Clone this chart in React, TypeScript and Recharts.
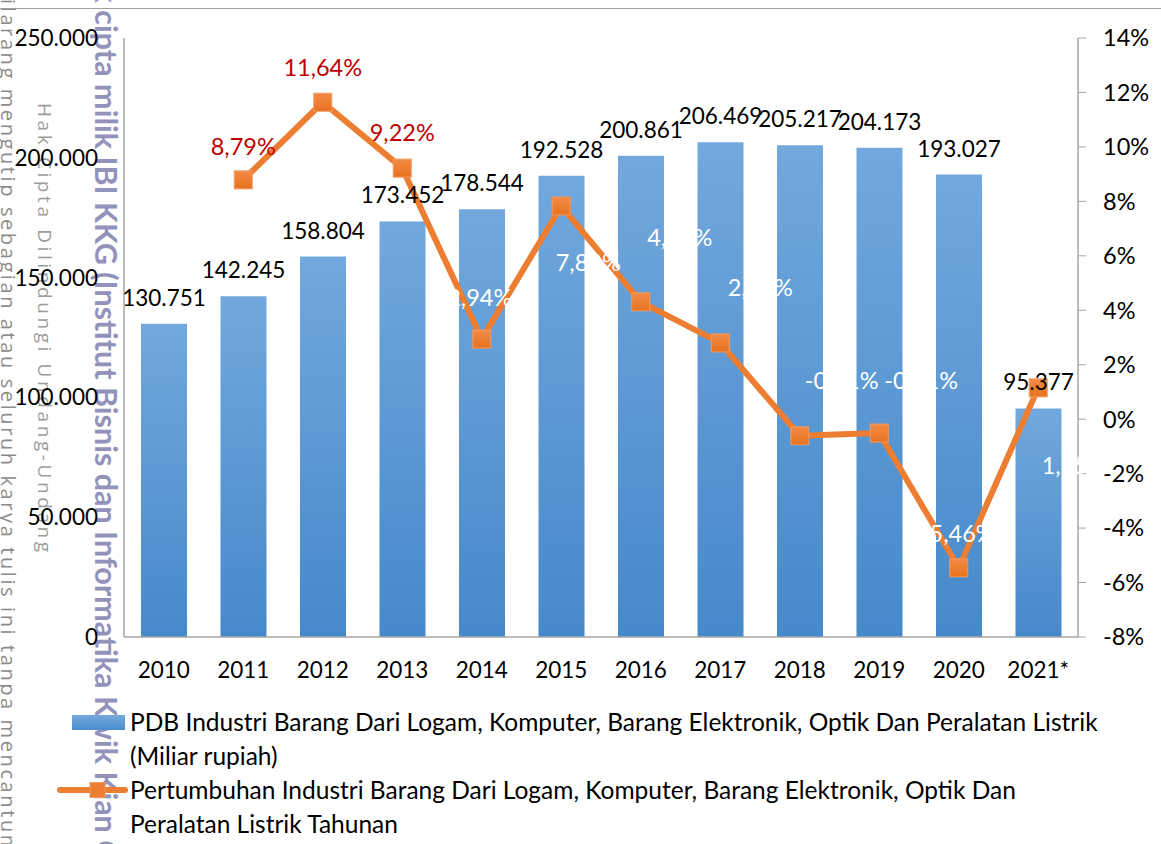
import { Bar, ComposedChart, LabelList, Line, XAxis, YAxis } from 'recharts'

const years = ['2010', '2011', '2012', '2013', '2014', '2015', '2016', '2017', '2018', '2019', '2020', '2021*']
// PDB (Miliar rupiah)
const pdb = [130751, 142245, 158804, 173452, 178544, 192528, 200861, 206469, 205217, 204173, 193027, 95377]
// pertumbuhan tahunan (%)
const growth = [null, 8.79, 11.64, 9.22, 2.94, 7.83, 4.31, 2.8, -0.61, -0.51, -5.46, 1.15]
const leftTicks = [0, 50000, 100000, 150000, 200000, 250000]
const rightTicks = [-8, -6, -4, -2, 0, 2, 4, 6, 8, 10, 12, 14]

const data = years.map((year, i) => ({ year, pdb: pdb[i], growth: growth[i] }))

const FONT = 'Lato, "Open Sans", sans-serif'
const ORANGE = '#ED7D31'

// where Excel left each growth label (relative to its point)
const labelPlace: Record<string, { dx: number; dy: number; color: string }> = {
  '2011': { dx: 0, dy: -34, color: '#C00000' },
  '2012': { dx: 0, dy: -35, color: '#C00000' },
  '2013': { dx: 0, dy: -36, color: '#C00000' },
  '2014': { dx: -2, dy: -42, color: '#fff' },
  '2015': { dx: 27, dy: 56, color: '#fff' },
  '2016': { dx: 39, dy: -65, color: '#fff' },
  '2017': { dx: 40, dy: -56, color: '#fff' },
  '2018': { dx: 42, dy: -56, color: '#fff' },
  '2019': { dx: 42, dy: -53, color: '#fff' },
  '2020': { dx: -1, dy: -35, color: '#fff' },
  '2021*': { dx: 36, dy: 77, color: '#fff' },
}

const fmtThousands = (v: number) => v.toLocaleString('de-DE')
const fmtPct = (v: number) => v.toFixed(2).replace('.', ',') + '%'

const SquareDot = (props: any) => {
  const { cx, cy, index } = props
  if (cx == null || cy == null || props.value == null) return <g key={'d' + index} />
  return (
    <rect
      key={'d' + index}
      x={cx - 9}
      y={cy - 9}
      width={18}
      height={18}
      fill="url(#dotGrad)"
      stroke="#F29A5E"
      strokeWidth={1}
    />
  )
}

const GrowthLabel = (props: any) => {
  const { x, y, value, index } = props
  if (value == null || x == null || y == null) return null
  const place = labelPlace[years[index]]
  if (!place) return null
  return (
    <text
      x={x + place.dx}
      y={y + place.dy}
      textAnchor="middle"
      dominantBaseline="central"
      fill={place.color}
      fontSize={23.5}
      fontFamily={FONT}
    >
      {fmtPct(value)}
    </text>
  )
}

// vertical watermark text, rotated 90deg clockwise around its top-left corner
const Vertical = ({ left, top, style, children }: any) => (
  <div
    style={{
      position: 'absolute',
      left,
      top,
      transform: 'rotate(90deg)',
      transformOrigin: '0 0',
      whiteSpace: 'nowrap',
      lineHeight: 1,
      ...style,
    }}
  >
    {children}
  </div>
)

const Watermark = () => (
  <>
    <Vertical
      left={18}
      top={-18}
      style={{ fontFamily: '"Open Sans", sans-serif', fontSize: 20, letterSpacing: 2.6, color: '#8c8c8c' }}
    >
      Dilarang mengutip sebagian atau seluruh karya tulis ini tanpa mencantumkan dan menyebutkan sumber
    </Vertical>
    <Vertical
      left={54}
      top={103}
      style={{ fontFamily: '"Open Sans", sans-serif', fontSize: 19, letterSpacing: 3.6, color: '#9c9c9c' }}
    >
      Hak Cipta Dilindungi Undang-Undang
    </Vertical>
    <Vertical
      left={122}
      top={-52}
      style={{ fontFamily: 'Lato, sans-serif', fontWeight: 700, fontSize: 30.5, color: '#9292BA' }}
    >
      Hak cipta milik IBI KKG (Institut Bisnis dan Informatika Kwik Kian Gie)
    </Vertical>
  </>
)

const LegendBox = () => (
  <div
    style={{
      position: 'absolute',
      left: 0,
      top: 705,
      width: 1161,
      fontFamily: FONT,
      fontSize: 24.5,
      lineHeight: '34px',
      color: '#000',
    }}
  >
    <div style={{ position: 'relative', height: 68 }}>
      <div
        style={{
          position: 'absolute',
          left: 72,
          top: 10,
          width: 53,
          height: 15,
          background: 'linear-gradient(#74A9DD, #4A8DCD)',
        }}
      />
      <div style={{ position: 'absolute', left: 130, top: 0, whiteSpace: 'nowrap' }}>
        PDB Industri Barang Dari Logam, Komputer, Barang Elektronik, Optik Dan Peralatan Listrik
        <br />
        (Miliar rupiah)
      </div>
    </div>
    <div style={{ position: 'relative', height: 68 }}>
      <svg style={{ position: 'absolute', left: 55, top: 2 }} width={75} height={30}>
        <line x1={5} y1={15} x2={70} y2={15} stroke={ORANGE} strokeWidth={6} strokeLinecap="round" />
        <rect x={35} y={7.5} width={15} height={15} fill={ORANGE} stroke="#F29A5E" />
      </svg>
      <div style={{ position: 'absolute', left: 130, top: 0, whiteSpace: 'nowrap' }}>
        Pertumbuhan Industri Barang Dari Logam, Komputer, Barang Elektronik, Optik Dan
        <br />
        Peralatan Listrik Tahunan
      </div>
    </div>
  </div>
)

export default function App() {
  return (
    <div
      style={{
        position: 'absolute',
        left: 0,
        top: 0,
        width: 1161,
        height: 844,
        overflow: 'hidden',
        background: '#fff',
      }}
    >
      <Watermark />
      <div style={{ position: 'absolute', left: 0, top: 8, width: 1161, height: 1, background: '#a0a0a0' }} />
      <div style={{ position: 'absolute', left: 0, top: 0 }}>
        <ComposedChart
          width={1161}
          height={844}
          data={data}
          margin={{ top: 38, right: 0, bottom: 157, left: 0 }}
          barCategoryGap="21%"
        >
          <defs>
            <linearGradient id="barGrad" x1="0" y1="0" x2="0" y2="1">
              <stop offset="0%" stopColor="#72A8DD" />
              <stop offset="100%" stopColor="#4689CA" />
            </linearGradient>
            <linearGradient id="dotGrad" x1="0" y1="0" x2="0" y2="1">
              <stop offset="0%" stopColor="#F28B46" />
              <stop offset="100%" stopColor="#E8721F" />
            </linearGradient>
          </defs>
          <XAxis
            dataKey="year"
            height={50}
            axisLine={{ stroke: '#a6a6a6', strokeWidth: 1.5 }}
            tickLine={false}
            tickSize={0}
            tickMargin={25}
            tick={{ fill: '#000', fontSize: 22.5, fontFamily: FONT }}
            interval={0}
          />
          <YAxis
            yAxisId="left"
            width={124}
            domain={[0, 250000]}
            ticks={leftTicks}
            tickFormatter={fmtThousands}
            axisLine={{ stroke: '#a6a6a6', strokeWidth: 1.5 }}
            tickLine={false}
            tickSize={0}
            tickMargin={26}
            tick={{ fill: '#000', fontSize: 22.5, fontFamily: FONT }}
            interval={0}
          />
          <YAxis
            yAxisId="right"
            orientation="right"
            width={83}
            domain={[-8, 14]}
            ticks={rightTicks}
            tickFormatter={(v: number) => v + '%'}
            axisLine={{ stroke: '#a6a6a6', strokeWidth: 1.5 }}
            tickLine={{ stroke: '#a6a6a6' }}
            tickSize={8}
            tickMargin={17}
            tick={{ fill: '#000', fontSize: 23.5, fontFamily: FONT }}
            interval={0}
          />
          <Bar yAxisId="left" dataKey="pdb" fill="url(#barGrad)" barSize={46} isAnimationActive={false}>
            <LabelList
              dataKey="pdb"
              position="top"
              offset={18}
              formatter={(v: any) => fmtThousands(Number(v))}
              fill="#000"
              fontSize={22.5}
              fontFamily={FONT}
            />
          </Bar>
          <Line
            yAxisId="right"
            dataKey="growth"
            stroke={ORANGE}
            strokeWidth={6}
            strokeLinejoin="round"
            dot={SquareDot}
            activeDot={false}
            label={GrowthLabel}
            isAnimationActive={false}
          />
        </ComposedChart>
      </div>
      <LegendBox />
    </div>
  )
}
